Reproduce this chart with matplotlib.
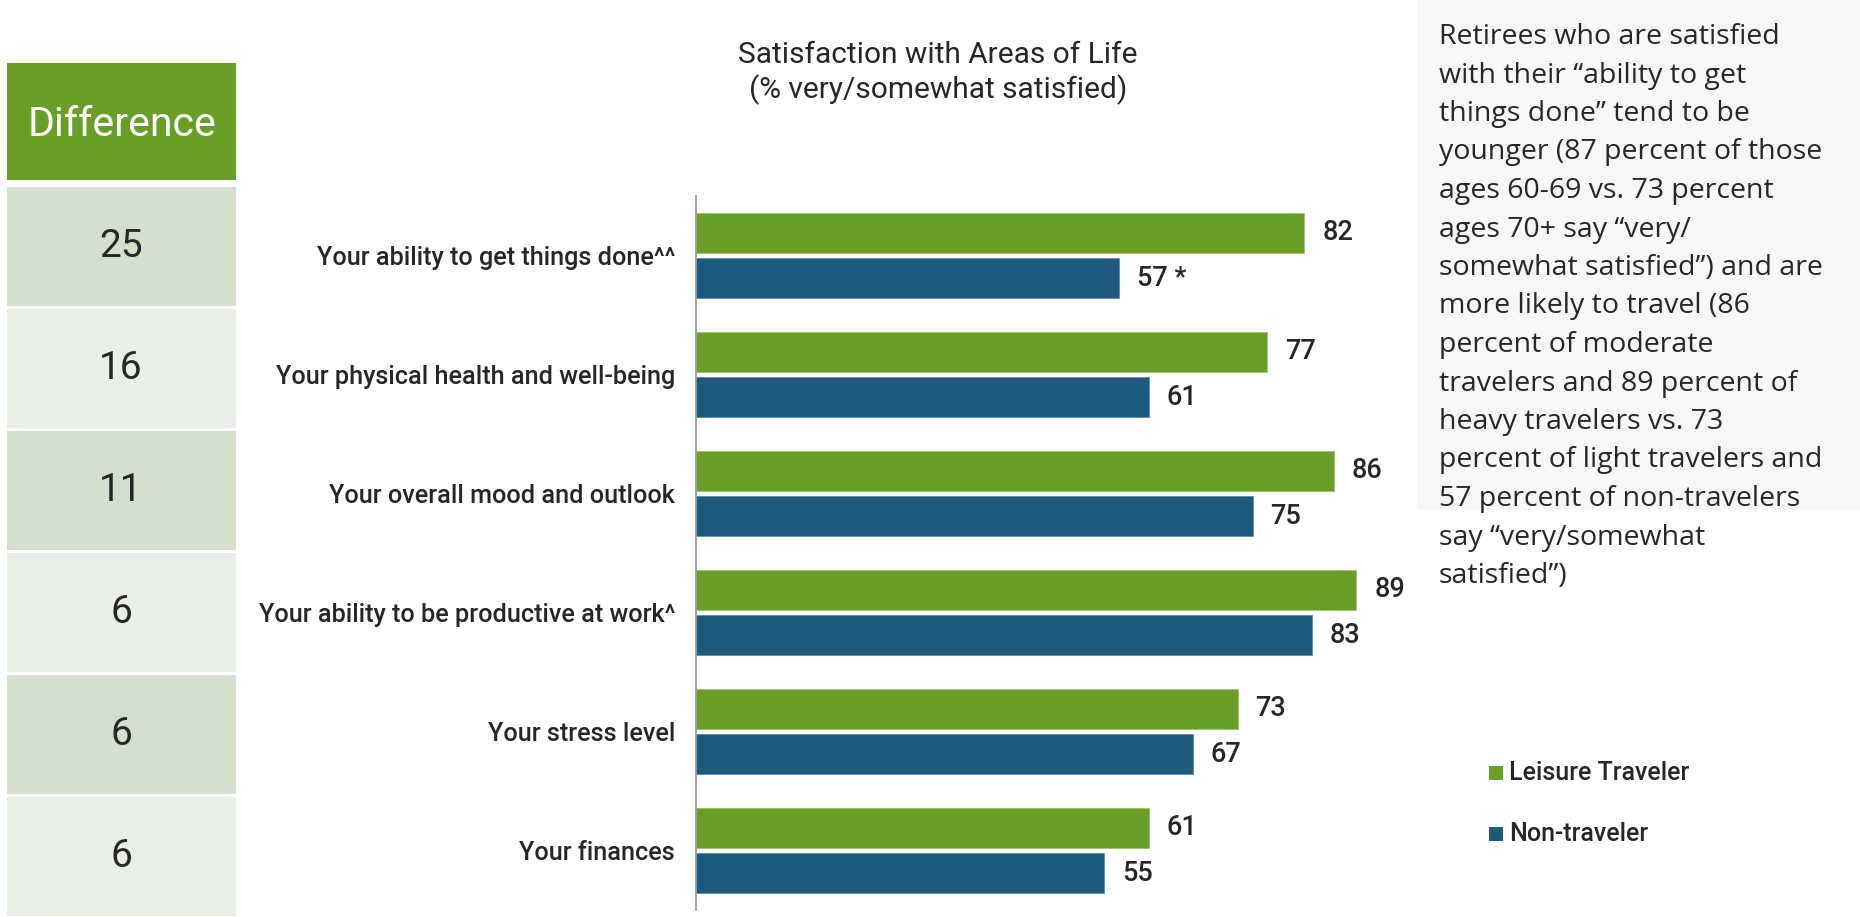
import matplotlib
matplotlib.use("Agg")
import matplotlib.pyplot as plt
from matplotlib.patches import Rectangle

# ---- data ----
categories = [
    "Your ability to get things done^^",
    "Your physical health and well-being",
    "Your overall mood and outlook",
    "Your ability to be productive at work^",
    "Your stress level",
    "Your finances",
]
leisure = [82, 77, 86, 89, 73, 61]
non_traveler = [57, 61, 75, 83, 67, 55]
non_traveler_marks = ["*", "", "", "", "", ""]
series_names = ["Leisure Traveler", "Non-traveler"]
title_lines = ["Satisfaction with Areas of Life", "(% very/somewhat satisfied)"]
diff_header = "Difference"
note_lines = [
    "Retirees who are satisfied",
    "with their \u201cability to get",
    "things done\u201d tend to be",
    "younger (87 percent of those",
    "ages 60-69 vs. 73 percent",
    "ages 70+ say \u201cvery/",
    "somewhat satisfied\u201d) and are",
    "more likely to travel (86",
    "percent of moderate",
    "travelers and 89 percent of",
    "heavy travelers vs. 73",
    "percent of light travelers and",
    "57 percent of non-travelers",
    "say \u201cvery/somewhat",
    "satisfied\u201d)",
]

GREEN = "#6A9F27"
BLUE = "#1E5A7D"
TEXT = "#262626"
CELL_DARK = "#D4DFCD"
CELL_LIGHT = "#E9EEE6"
PANEL = "#F7F7F5"

W, H = 1860, 917
fig = plt.figure(figsize=(W / 100, H / 100), dpi=100)
fig.patch.set_facecolor("white")

def fx(px):
    return px / W

def fy(py):
    return 1 - py / H

FONT = ["Roboto", "DejaVu Sans"]
NOTE_FONT = ["Open Sans", "DejaVu Sans"]

# ---- main bar chart ----
ax_left, ax_top, ax_bottom = 696, 196, 910
px_per_unit = 7.42
ax = fig.add_axes([fx(ax_left), fy(ax_bottom), 100 * px_per_unit / W,
                   (ax_bottom - ax_top) / H])
n = len(categories)
ys = list(range(n))
bh = 0.33
off = 0.19
ax.barh([y - off for y in ys], leisure, height=bh, color=GREEN,
        edgecolor="#9CC46A", linewidth=0.6)
ax.barh([y + off for y in ys], non_traveler, height=bh, color=BLUE,
        edgecolor="#5C8CA8", linewidth=0.6)
ax.set_xlim(0, 100)
ax.set_ylim(n - 0.5, -0.5)
ax.patch.set_alpha(0)
for s in ["top", "right", "bottom"]:
    ax.spines[s].set_visible(False)
ax.spines["left"].set_color("#9A9A9A")
ax.spines["left"].set_linewidth(1.3)
ax.set_xticks([])
ax.set_yticks(ys)
ax.set_yticklabels(categories, fontsize=18.2, color=TEXT, family=FONT,
                   fontweight="medium")
ax.tick_params(axis="y", length=0, pad=15)

for y, v in zip(ys, leisure):
    ax.text(v + 2.4, y - off, f"{v}", va="center", ha="left",
            fontsize=19.5, color=TEXT, family=FONT, fontweight="medium")
for y, v, m in zip(ys, non_traveler, non_traveler_marks):
    lab = f"{v} {m}" if m else f"{v}"
    ax.text(v + 2.4, y + off, lab, va="center", ha="left",
            fontsize=19.5, color=TEXT, family=FONT, fontweight="medium")

# ---- title ----
fig.text(fx(938), fy(55), title_lines[0], ha="center", va="center",
         fontsize=21.5, color=TEXT, family=FONT)
fig.text(fx(938), fy(90), title_lines[1], ha="center", va="center",
         fontsize=21.5, color=TEXT, family=FONT)

# ---- difference column ----
col_x0, col_x1 = 7, 236
fig.patches.append(Rectangle((fx(col_x0), fy(180)), fx(col_x1 - col_x0),
                             (180 - 63) / H, transform=fig.transFigure,
                             facecolor=GREEN, edgecolor="none"))
fig.text(fx((col_x0 + col_x1) / 2), fy(124), diff_header, ha="center",
         va="center", fontsize=29.5, color="white", family=FONT)
cell_top0, cell_pitch, cell_h = 187, 122, 119
for i, (a, b) in enumerate(zip(leisure, non_traveler)):
    top = cell_top0 + i * cell_pitch
    fig.patches.append(Rectangle((fx(col_x0), fy(top + cell_h)),
                                 fx(col_x1 - col_x0), cell_h / H,
                                 transform=fig.transFigure,
                                 facecolor=CELL_DARK if i % 2 == 0 else CELL_LIGHT,
                                 edgecolor="none"))
    fig.text(fx(121), fy(top + cell_h / 2), f"{a - b}", ha="center",
             va="center", fontsize=28, color=TEXT, family=FONT)

# ---- note panel ----
fig.patches.append(Rectangle((fx(1417), fy(510)), fx(W - 1417), 510 / H,
                             transform=fig.transFigure, facecolor=PANEL,
                             edgecolor="none"))
for i, line in enumerate(note_lines):
    fig.text(fx(1439), fy(44 + i * 38.5), line, ha="left", va="baseline",
             fontsize=20.5, color=TEXT, family=NOTE_FONT)

# ---- legend ----
for i, (name, col) in enumerate(zip(series_names, [GREEN, BLUE])):
    cy = 773 + i * 61
    fig.patches.append(Rectangle((fx(1489), fy(cy + 7)), fx(14), 14 / H,
                                 transform=fig.transFigure, facecolor=col,
                                 edgecolor="none"))
    fig.text(fx(1509), fy(cy), name, ha="left", va="center",
             fontsize=18, color=TEXT, family=FONT, fontweight="medium")

fig.savefig("out.png", dpi=100, facecolor="white")
